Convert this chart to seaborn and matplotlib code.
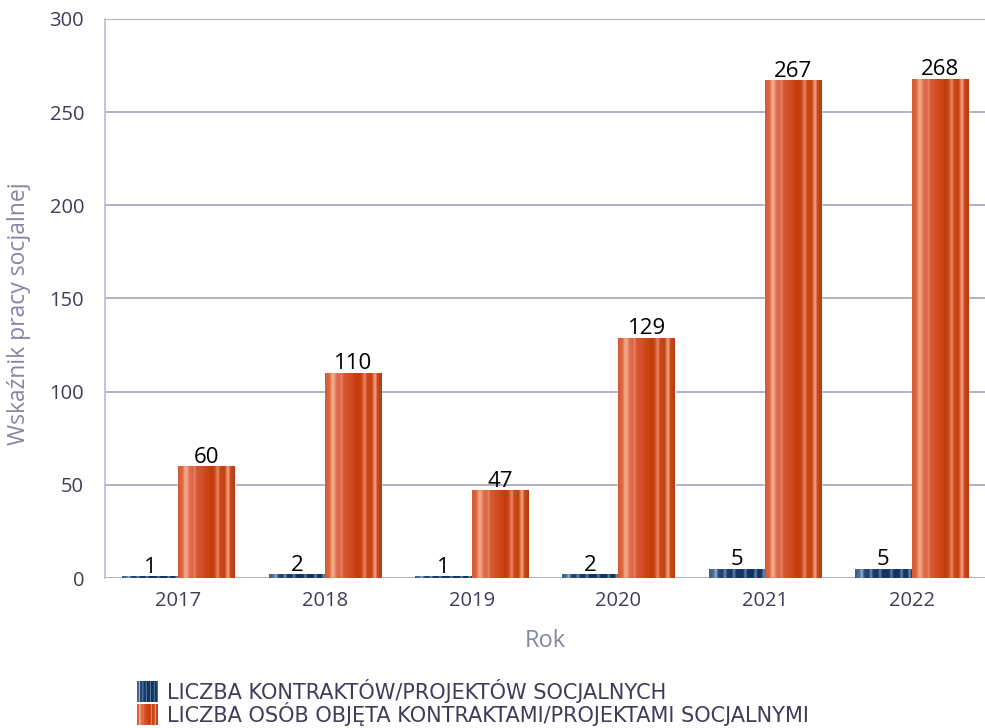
import numpy as np
import pandas as pd
import matplotlib
matplotlib.use("Agg")
import matplotlib.pyplot as plt
import seaborn as sns
from matplotlib.colors import to_rgb
from matplotlib.patches import Patch
from matplotlib.legend_handler import HandlerBase

years = ["2017", "2018", "2019", "2020", "2021", "2022"]
series_names = ["LICZBA KONTRAKTÓW/PROJEKTÓW SOCJALNYCH",
                "LICZBA OSÓB OBJĘTA KONTRAKTAMI/PROJEKTAMI SOCJALNYMI"]
contracts = [1, 2, 1, 2, 5, 5]
persons = [60, 110, 47, 129, 267, 268]
y_ticks = [0, 50, 100, 150, 200, 250, 300]

df = pd.DataFrame({
    "Rok": years * 2,
    "value": contracts + persons,
    "series": [series_names[0]] * len(years) + [series_names[1]] * len(years),
})

sns.set_theme(style="white")
plt.rcParams["font.family"] = ["Open Sans", "DejaVu Sans"]

tick_col = "#3d3d58"
lab_col = "#8585a8"
grid_col = "#9c9ab8"

fig = plt.figure(figsize=(9.85, 7.28), dpi=100)
ax = fig.add_axes([0.1066, 0.206, 0.8934, 0.768])

palette = {series_names[0]: "#0f3a68", series_names[1]: "#d04a1e"}
sns.barplot(data=df, x="Rok", y="value", hue="series", palette=palette,
            width=0.77, ax=ax, legend=False, saturation=1, zorder=3)

ax.set_ylim(0, 300)
ax.set_yticks(y_ticks)
ax.set_xlim(-0.5, 5.5)
ax.yaxis.grid(True, color=grid_col, linewidth=1.1, zorder=0)
ax.xaxis.grid(False)
for s in ["top", "right", "bottom"]:
    ax.spines[s].set_visible(False)
ax.spines["left"].set_color("#b4b4d4")
ax.spines["left"].set_linewidth(1.1)
ax.set_axisbelow(True)
ax.tick_params(axis="both", length=0, labelsize=14.5, labelcolor=tick_col)
ax.tick_params(axis="x", pad=9)
ax.tick_params(axis="y", pad=15)
ax.set_xlabel("Rok", fontsize=17, color=lab_col, labelpad=13)
ax.set_ylabel("Wskaźnik pracy socjalnej", fontsize=16.5, color=lab_col)
ax.yaxis.set_label_coords(-0.084, 0.472)


def stripes(stops):
    pos = np.array([p for p, _ in stops])
    cols = np.array([to_rgb(c) for _, c in stops])
    xs = np.linspace(0, 1, 171)
    arr = np.stack([np.interp(xs, pos, cols[:, k]) for k in range(3)], axis=-1)
    return arr[None, :, :]


orange_grad = stripes([
    (0.00, "#d45a32"), (0.08, "#dc6a42"), (0.12, "#f2a888"), (0.16, "#f0a080"),
    (0.20, "#e07050"), (0.26, "#dc6240"), (0.29, "#e88a68"), (0.32, "#d85a36"),
    (0.45, "#d24c22"), (0.55, "#c8400e"), (0.62, "#c63c0c"), (0.66, "#d25a34"),
    (0.70, "#e88a6a"), (0.74, "#cc4818"), (0.82, "#c4400e"), (0.86, "#e68a68"),
    (0.89, "#f0a080"), (0.92, "#cc4a1c"), (1.00, "#b83a10"),
])
blue_grad = stripes([
    (0.00, "#3a5e88"), (0.08, "#4c7098"), (0.12, "#a0b4cc"), (0.16, "#2a4e7c"),
    (0.24, "#1c4270"), (0.28, "#7890b0"), (0.32, "#1a3e6c"), (0.40, "#14386a"),
    (0.44, "#6a84a8"), (0.48, "#123666"), (0.60, "#103464"), (0.64, "#6680a4"),
    (0.68, "#103464"), (0.78, "#0e3262"), (0.82, "#7088aa"), (0.86, "#0e3262"),
    (0.93, "#163a68"), (0.96, "#8098b8"), (1.00, "#10345f"),
])
grads = [blue_grad, orange_grad]

for ci, cont in enumerate(ax.containers):
    for bar in cont:
        x0, y0 = bar.get_x(), bar.get_y()
        w, h = bar.get_width(), bar.get_height()
        im = ax.imshow(grads[ci], extent=[x0, x0 + w, y0, y0 + h],
                       aspect="auto", zorder=3.5, interpolation="bilinear")
        im.set_clip_path(bar)
    ax.bar_label(cont, labels=[str(v) for v in (contracts if ci == 0 else persons)],
                 fontsize=16, color="black", padding=-1, zorder=5)

ax.set_xlim(-0.5, 5.5)
ax.set_ylim(0, 300)


class GradHandler(HandlerBase):
    def __init__(self, grad):
        super().__init__()
        self.grad = grad

    def create_artists(self, legend, orig_handle, xdescent, ydescent, width,
                       height, fontsize, trans):
        from matplotlib.image import BboxImage
        from matplotlib.transforms import Bbox, TransformedBbox
        h = 21 * 72 / 100.0
        w = h
        bb = Bbox.from_bounds(-xdescent + (width - w), -ydescent - (h - height) / 2, w, h)
        tbb = TransformedBbox(bb, trans)
        img = BboxImage(tbb, interpolation="bilinear")
        img.set_data(self.grad)
        return [img]


handles = [Patch(color="#0f3a68"), Patch(color="#d04a1e")]
leg = fig.legend(handles, series_names, loc="upper left",
                 bbox_to_anchor=(0.129, 0.082), frameon=False,
                 prop={"family": ["DejaVu Sans"], "size": 15},
                 labelcolor=tick_col, handlelength=1.0,
                 handletextpad=0.4, labelspacing=-0.05, borderpad=0,
                 handler_map={handles[0]: GradHandler(grads[0]),
                              handles[1]: GradHandler(grads[1])})

fig.savefig("out.png", dpi=100)
